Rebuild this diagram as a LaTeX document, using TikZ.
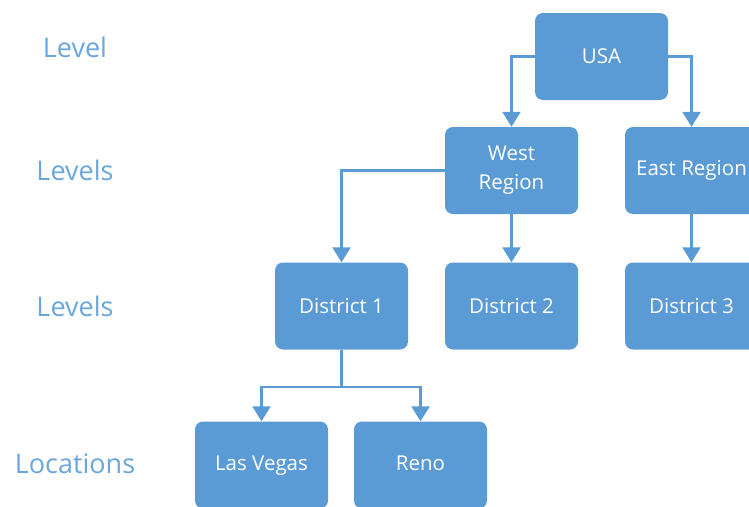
\documentclass[tikz,border=0pt]{standalone}
\usepackage{fontspec}
\setmainfont{Open Sans}
\usetikzlibrary{arrows.meta}
\definecolor{boxblue}{HTML}{5B9BD5}
\definecolor{lblblue}{HTML}{6AA6DE}
\begin{document}
\begin{tikzpicture}[x=1pt,y=-1pt,
  box/.style={rectangle,rounded corners=8pt,fill=boxblue,text=white,
    minimum width=133pt,minimum height=87pt,align=center,
    font=\fontsize{20.5}{29}\selectfont},
  leaf/.style={box,text height=15pt,text depth=5pt},
  lvl/.style={text=lblblue,font=\fontsize{27}{30}\selectfont},
  link/.style={draw=boxblue,line width=2.3pt,-{Triangle[width=18pt,length=15pt]}}]
\clip (0,0) rectangle (749,506);
% level labels on the left
\node[lvl] (l1) at (75,47) {Level};
\node[lvl] (l2) at (75,170) {Levels};
\node[lvl] (l3) at (75,306) {Levels};
\node[lvl] (l4) at (75,464) {Locations};
% tree
\node[box] (usa) at (601.5,56.5) {USA};
\node[box] (west) at (511.5,170.5) {West\\Region};
\node[box] (east) at (691.5,170.5) {East Region};
\node[box] (d1) at (341.5,306) {District 1};
\node[box] (d2) at (511.5,306) {District 2};
\node[box] (d3) at (691.5,306) {District 3};
\node[leaf] (lv) at (261.5,465) {Las Vegas};
\node[leaf] (reno) at (420.5,465) {Reno};
\coordinate (split) at (341.5,387);
% connectors
\draw[link] (usa.west) -| (west.north);
\draw[link] (usa.east) -| (east.north);
\draw[link] (west.west) -| (d1.north);
\draw[link] (west.south) -- (d2.north);
\draw[link] (east.south) -- (d3.north);
\draw[link] (d1.south) -- (split) -| (lv.north);
\draw[link] (split) -| (reno.north);
\end{tikzpicture}
\end{document}
